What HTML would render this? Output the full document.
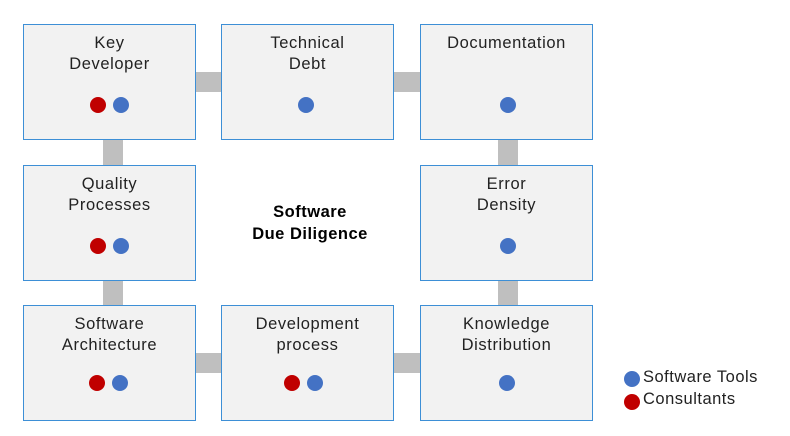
<!DOCTYPE html>
<html><head><style>
body{margin:0;width:790px;height:436px;background:#fff;position:relative;overflow:hidden;font-family:"Liberation Sans",sans-serif;}
.b{position:absolute;width:171px;height:114px;background:#f2f2f2;border:1.5px solid #3d8fd6;text-align:center;font-size:16.5px;color:#222;line-height:21px;box-sizing:content-box;letter-spacing:0.6px}
.b .t{position:absolute;top:8px;left:0;right:0}
.h{position:absolute;background:#bfbfbf;height:20px;width:26px}
.v{position:absolute;background:#bfbfbf;width:20px;height:26px}
.d{position:absolute;width:16px;height:16px;border-radius:50%}
.r{background:#c00000}.u{background:#4472c4}
.c{position:absolute;left:200px;top:201px;width:220px;text-align:center;font-weight:bold;font-size:16.5px;line-height:22px;color:#000;letter-spacing:0.5px}
.l{position:absolute;left:643px;font-size:16.5px;color:#222;letter-spacing:0.5px}
</style></head><body>
<div class="h" style="left:196px;top:72px"></div>
<div class="h" style="left:394px;top:72px"></div>
<div class="h" style="left:196px;top:353px"></div>
<div class="h" style="left:394px;top:353px"></div>
<div class="v" style="left:103px;top:139px"></div>
<div class="v" style="left:103px;top:280px"></div>
<div class="v" style="left:498px;top:139px"></div>
<div class="v" style="left:498px;top:280px"></div>

<div class="b" style="left:23px;top:24px"><div class="t">Key<br>Developer</div></div>
<div class="b" style="left:221px;top:24px"><div class="t">Technical<br>Debt</div></div>
<div class="b" style="left:420px;top:24px"><div class="t">Documentation</div></div>
<div class="b" style="left:23px;top:165px"><div class="t">Quality<br>Processes</div></div>
<div class="b" style="left:420px;top:165px"><div class="t">Error<br>Density</div></div>
<div class="b" style="left:23px;top:305px"><div class="t">Software<br>Architecture</div></div>
<div class="b" style="left:221px;top:305px"><div class="t">Development<br>process</div></div>
<div class="b" style="left:420px;top:305px"><div class="t">Knowledge<br>Distribution</div></div>

<div class="d r" style="left:90px;top:97px"></div><div class="d u" style="left:113px;top:97px"></div>
<div class="d u" style="left:298px;top:97px"></div>
<div class="d u" style="left:500px;top:97px"></div>
<div class="d r" style="left:90px;top:238px"></div><div class="d u" style="left:113px;top:238px"></div>
<div class="d u" style="left:500px;top:238px"></div>
<div class="d r" style="left:89px;top:375px"></div><div class="d u" style="left:112px;top:375px"></div>
<div class="d r" style="left:284px;top:375px"></div><div class="d u" style="left:307px;top:375px"></div>
<div class="d u" style="left:499px;top:375px"></div>

<div class="c">Software<br>Due Diligence</div>
<div class="d u" style="left:624px;top:371px"></div><div class="l" style="top:368px">Software Tools</div>
<div class="d r" style="left:624px;top:394px"></div><div class="l" style="top:390px">Consultants</div>
</body></html>
